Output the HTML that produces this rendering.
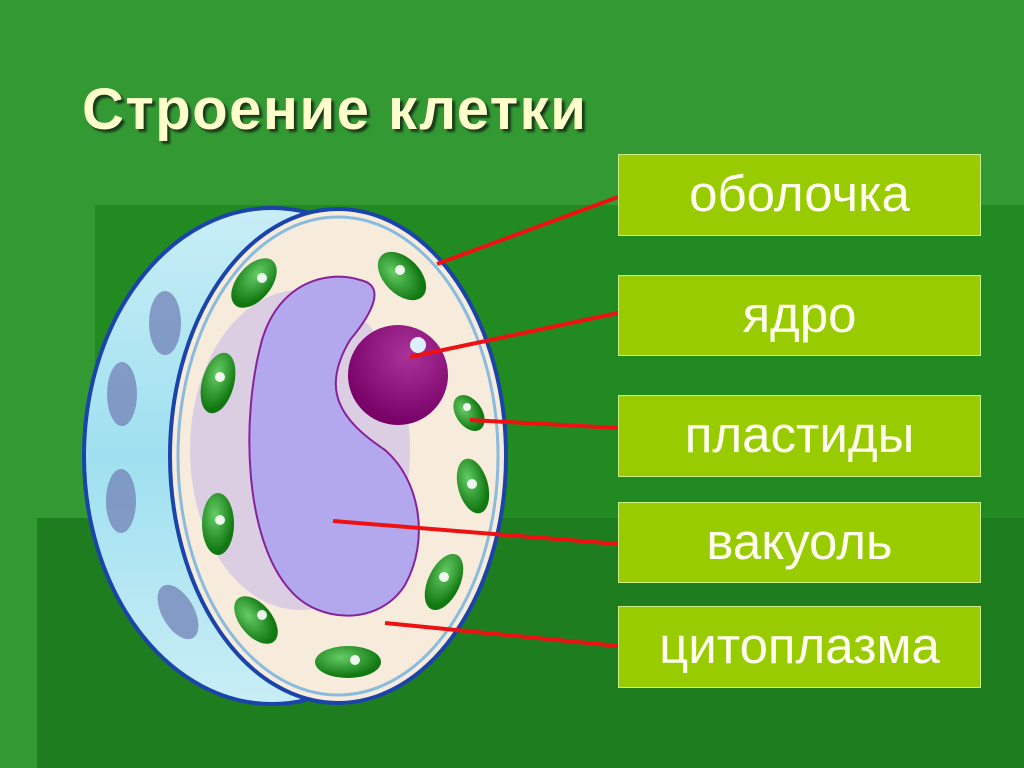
<!DOCTYPE html>
<html><head><meta charset="utf-8"><style>
html,body{margin:0;padding:0}
body{width:1024px;height:768px;position:relative;overflow:hidden;background:#339933;font-family:"Liberation Sans",sans-serif}
.d{position:absolute;background:#218a21}
.t{position:absolute;left:82px;top:76px;font-size:58px;font-weight:bold;color:#ffffcc;text-shadow:3px 3px 2px #1a3a1a;letter-spacing:1.5px;white-space:nowrap}
.b{position:absolute;left:618px;width:363px;background:#99cc00;border:1px solid #ccee88;color:#fffff0;font-size:51px;text-align:center;box-sizing:border-box}
</style></head><body>
<div class="d" style="left:95px;top:205px;width:929px;height:563px"></div>
<div class="d" style="left:37px;top:518px;width:987px;height:250px;background:#1e7d1e"></div>
<div class="t">Строение клетки</div>
<svg width="1024" height="768" style="position:absolute;left:0;top:0">
<defs>
<radialGradient id="g" cx="0.4" cy="0.35" r="0.6"><stop offset="0" stop-color="#66cc66"/><stop offset="1" stop-color="#117711"/></radialGradient>
<radialGradient id="n" cx="0.6" cy="0.3" r="0.7"><stop offset="0" stop-color="#aa3399"/><stop offset="1" stop-color="#770066"/></radialGradient>
<linearGradient id="bk" x1="0" y1="0" x2="0" y2="1"><stop offset="0" stop-color="#c8eef6"/><stop offset="0.5" stop-color="#9fe0f0"/><stop offset="1" stop-color="#c8eef6"/></linearGradient>
</defs>
<ellipse cx="272" cy="456" rx="188" ry="248" fill="url(#bk)" stroke="#1a44aa" stroke-width="4"/>
<g fill="#7788bb" opacity="0.8">
<ellipse cx="165" cy="323" rx="16" ry="32"/><ellipse cx="122" cy="394" rx="15" ry="32"/>
<ellipse cx="121" cy="501" rx="15" ry="32"/><ellipse cx="178" cy="612" rx="16" ry="30" transform="rotate(-30 178 612)"/>
</g>
<ellipse cx="338" cy="456" rx="168" ry="247" fill="#f7ecdc" stroke="#1a44aa" stroke-width="4"/>
<ellipse cx="338" cy="456" rx="160" ry="239" fill="none" stroke="#88bbdd" stroke-width="3"/>
<ellipse cx="300" cy="450" rx="110" ry="160" fill="#b8a8e8" opacity="0.45"/>
<path d="M360,280 C330,270 280,280 262,340 C240,420 245,540 290,590 C320,625 380,625 405,585 C430,540 420,480 385,450 C340,420 320,390 350,340 C375,310 385,285 360,280 Z" fill="#b3a8ee" stroke="#882299" stroke-width="2"/>
<circle cx="398" cy="375" r="50" fill="url(#n)"/>
<circle cx="418" cy="345" r="8" fill="#ddeeff"/>
<g fill="url(#g)">
<ellipse cx="254" cy="283" rx="17" ry="29" transform="rotate(40 254 283)"/>
<ellipse cx="402" cy="276" rx="18" ry="29" transform="rotate(-45 402 276)"/>
<ellipse cx="218" cy="383" rx="16" ry="31" transform="rotate(15 218 383)"/>
<ellipse cx="469" cy="413" rx="13" ry="20" transform="rotate(-35 469 413)"/>
<ellipse cx="473" cy="486" rx="15" ry="28" transform="rotate(-15 473 486)"/>
<ellipse cx="218" cy="524" rx="16" ry="31"/>
<ellipse cx="444" cy="582" rx="16" ry="30" transform="rotate(25 444 582)"/>
<ellipse cx="256" cy="620" rx="16" ry="28" transform="rotate(-40 256 620)"/>
<ellipse cx="348" cy="662" rx="33" ry="16"/>
</g>
<g fill="#fff" opacity="0.9">
<circle cx="262" cy="278" r="5"/><circle cx="400" cy="270" r="5"/><circle cx="220" cy="377" r="5"/><circle cx="467" cy="407" r="4"/><circle cx="472" cy="484" r="5"/><circle cx="220" cy="520" r="5"/><circle cx="444" cy="577" r="5"/><circle cx="262" cy="615" r="5"/><circle cx="355" cy="660" r="5"/>
</g>
<g stroke="#ee1111" stroke-width="4">
<line x1="437" y1="264" x2="618" y2="197"/>
<line x1="410" y1="357" x2="618" y2="313"/>
<line x1="470" y1="420" x2="618" y2="428"/>
<line x1="333" y1="521" x2="618" y2="544"/>
<line x1="385" y1="623" x2="618" y2="646"/>
</g>
</svg>
<div class="b" style="top:154px;height:82px;line-height:78px">оболочка</div>
<div class="b" style="top:275px;height:81px;line-height:78px">ядро</div>
<div class="b" style="top:395px;height:82px;line-height:78px">пластиды</div>
<div class="b" style="top:502px;height:81px;line-height:78px">вакуоль</div>
<div class="b" style="top:606px;height:82px;line-height:78px">цитоплазма</div>
</body></html>
